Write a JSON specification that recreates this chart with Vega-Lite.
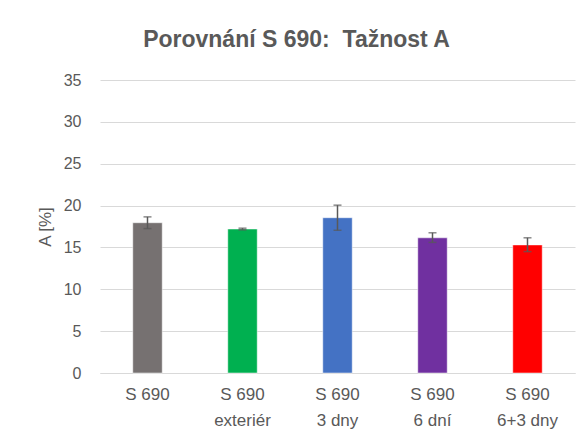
{
  "$schema": "https://vega.github.io/schema/vega-lite/v6.json",
  "width": 475,
  "height": 293,
  "autosize": "none",
  "padding": {"left": 100, "top": 80, "right": 5, "bottom": 73},
  "background": "white",
  "title": {
    "text": "Porovnání S 690:\u00a0 Tažnost A",
    "anchor": "middle",
    "dx": -41,
    "offset": 20,
    "font": "Liberation Sans",
    "fontSize": 23,
    "fontWeight": "bold",
    "color": "#595959"
  },
  "data": {
    "values": [
      {"kat": "S 690", "label": "S 690", "A": 17.95, "lo": 17.25, "hi": 18.65, "barva": "#767171"},
      {"kat": "S 690 exteriér", "label": "S 690|exteriér", "A": 17.2, "lo": 17.1, "hi": 17.3, "barva": "#00b050"},
      {"kat": "S 690 3 dny", "label": "S 690|3 dny", "A": 18.55, "lo": 17.05, "hi": 20.05, "barva": "#4472c4"},
      {"kat": "S 690 6 dní", "label": "S 690|6 dní", "A": 16.15, "lo": 15.6, "hi": 16.75, "barva": "#7030a0"},
      {"kat": "S 690 6+3 dny", "label": "S 690|6+3 dny", "A": 15.3, "lo": 14.5, "hi": 16.15, "barva": "#ff0000"}
    ]
  },
  "encoding": {
    "x": {
      "field": "label",
      "type": "nominal",
      "sort": null,
      "scale": {"paddingInner": 0.69, "paddingOuter": 0.345},
      "axis": {
        "title": null,
        "labelAngle": 0,
        "labelExpr": "split(datum.value, '|')",
        "labelFont": "Liberation Sans",
        "labelFontSize": 17,
        "labelColor": "#595959",
        "labelLineHeight": 26,
        "labelPadding": 13,
        "ticks": false,
        "domainColor": "#d9d9d9",
        "domainWidth": 1,
        "grid": false
      }
    }
  },
  "layer": [
    {
      "mark": {"type": "bar", "stroke": "white", "strokeWidth": 0.5},
      "encoding": {
        "y": {
          "field": "A",
          "type": "quantitative",
          "title": "A [%]",
          "scale": {"domain": [0, 35]},
          "axis": {
            "title": "A [%]",
            "values": [0, 5, 10, 15, 20, 25, 30, 35],
            "ticks": false,
            "tickSize": 0,
            "domain": false,
            "labelPadding": 19,
            "labelFont": "Liberation Sans",
            "labelFontSize": 16,
            "labelColor": "#595959",
            "titleFont": "Liberation Sans",
            "titleFontSize": 17,
            "titleFontWeight": "normal",
            "titleColor": "#595959",
            "titlePadding": 9,
            "gridColor": "#d9d9d9",
            "gridWidth": 1
          }
        },
        "color": {"field": "barva", "type": "nominal", "scale": null, "legend": null}
      }
    },
    {
      "mark": {"type": "errorbar", "ticks": {"size": 8, "thickness": 1.5, "color": "#595959"}, "rule": {"strokeWidth": 1.5, "color": "#595959"}},
      "encoding": {
        "y": {"field": "lo", "type": "quantitative", "title": "A [%]"},
        "y2": {"field": "hi"}
      }
    }
  ],
  "config": {"view": {"stroke": null}}
}
